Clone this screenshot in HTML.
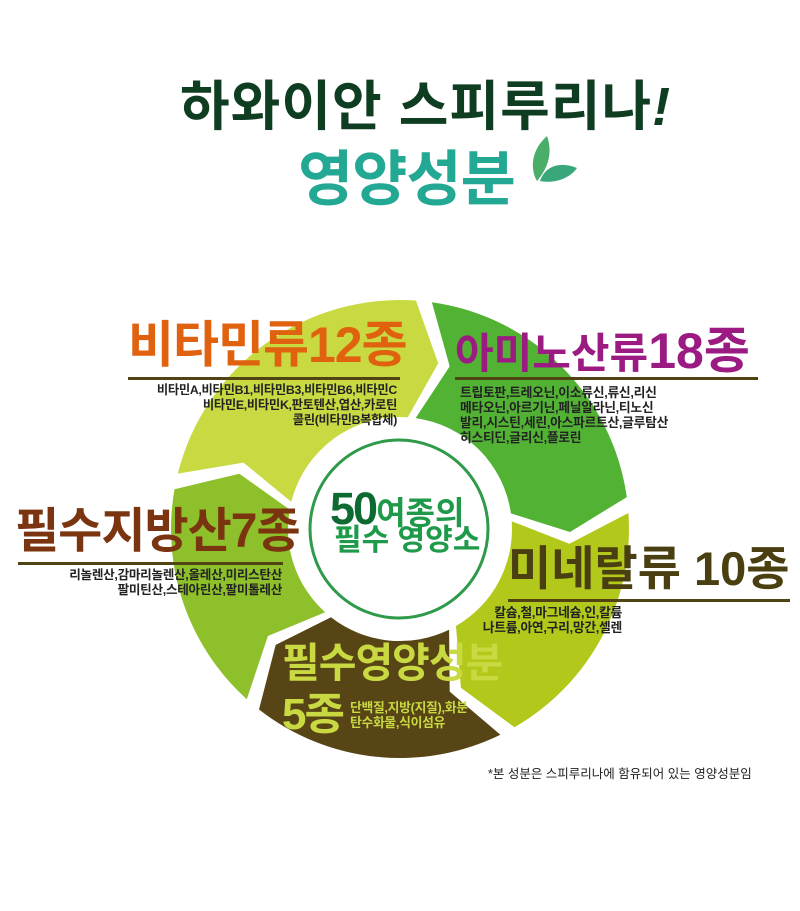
<!DOCTYPE html>
<html><head><meta charset="utf-8"><style>
body{margin:0;width:800px;height:911px;background:#fff;overflow:hidden;position:relative;font-family:"Liberation Sans","Noto Sans CJK KR",sans-serif;font-weight:bold}
.a{position:absolute;white-space:nowrap;line-height:1}
.bar{position:absolute;height:3px;background:#4f4412}
.d{position:absolute;font-size:12.3px;line-height:15px;color:#222;white-space:nowrap;letter-spacing:-0.3px}
</style></head><body>
<svg id="s" width="800" height="911" style="position:absolute;left:0;top:0">
<path d="M547 136 C528 153 532 173 537 181 C548 168 553 153 547 136Z" fill="#4aae6a"/>
<path d="M577 168 C560 161 545 166 540 181 C555 184 570 178 577 168Z" fill="#3aa77a"/>
<circle cx="399" cy="529" r="89" fill="#fff" stroke="#2e9a4a" stroke-width="3"/>
</svg>
<script>
(function(){var s=document.getElementById('s'),cx=400,cy=529,R=229,r=112,m=170,t=9;
function p(a,rr){a=a*Math.PI/180;return (cx+rr*Math.sin(a)).toFixed(1)+' '+(cy-rr*Math.cos(a)).toFixed(1);}
var seg=[[-76,4,'#c9d942'],[8,82,'#52b234'],[86,150,'#b2c81a'],[154,218,'#574515'],[222,280,'#8dc02a']];
var c=s.querySelector('circle');
seg.forEach(function(g){var a0=g[0],a1=g[1],d='M'+p(a0,R)+' A'+R+' '+R+' 0 0 1 '+p(a1,R)+' L'+p(a1+t,m)+' L'+p(a1,r)+' A'+r+' '+r+' 0 0 0 '+p(a0,r)+' L'+p(a0+t,m)+'Z';
var e=document.createElementNS('http://www.w3.org/2000/svg','path');e.setAttribute('d',d);e.setAttribute('fill',g[2]);e.setAttribute('stroke-linejoin','round');s.insertBefore(e,c);});})();
</script>
<div class="a" style="left:180px;top:80px;font-size:54px;color:#0f3d22;letter-spacing:1px">하와이안 스피루리나<i>!</i></div>
<div class="a" style="left:298px;top:150px;font-size:60px;color:#23a894;letter-spacing:-1px">영양성분</div>

<div class="a" style="left:128px;top:320px;font-size:50px;color:#e0620f;letter-spacing:-1px">비타민류12종</div>
<div class="bar" style="left:128px;top:377px;width:272px"></div>
<div class="d" style="right:403px;top:383px;text-align:right">비타민A,비타민B1,비타민B3,비타민B6,비타민C<br>비타민E,비타민K,판토텐산,엽산,카로틴<br>콜린(비타민B복합체)</div>

<div class="a" style="left:455px;top:326px;font-size:42px;color:#9b1b82;letter-spacing:0px">아미노산류<span style="font-size:50px">18종</span></div>
<div class="bar" style="left:455px;top:377px;width:303px"></div>
<div class="d" style="left:460px;top:385px;font-size:12.8px">트립토판,트레오닌,이소류신,류신,리신<br>메타오닌,아르기닌,페닐알라닌,티노신<br>발리,시스틴,세린,아스파르트산,글루탐산<br>히스티딘,글리신,플로린</div>

<div class="a" style="left:15px;top:508px;font-size:48px;color:#7a3510;letter-spacing:-1px">필수지방산7종</div>
<div class="bar" style="left:18px;top:562px;width:265px"></div>
<div class="d" style="right:518px;top:568px;text-align:right;font-size:12.6px">리놀렌산,감마리놀렌산,올레산,미리스탄산<br>팔미틴산,스테아린산,팔미톨레산</div>

<div class="a" style="left:508px;top:545px;font-size:47px;color:#4a3f10;letter-spacing:0px">미네랄류 10종</div>
<div class="bar" style="left:508px;top:599px;width:282px"></div>
<div class="d" style="right:178px;top:605px;text-align:right;font-size:12.8px">칼슘,철,마그네슘,인,칼륨<br>나트륨,아연,구리,망간,셀렌</div>

<div class="a" style="left:282px;top:643px;font-size:41px;color:#c9d942;letter-spacing:-1px">필수영양성분</div>
<div class="a" style="left:282px;top:693px;font-size:44px;color:#c9d942;letter-spacing:-2px">5종</div>
<div class="d" style="left:350px;top:700px;color:#c9d942;font-size:12.8px">단백질,지방(지질),화분<br>탄수화물,식이섬유</div>

<div class="a" style="left:330px;top:486px;font-size:45px;color:#0d6a30;letter-spacing:-2px">50<span style="font-size:32px;color:#1f9a4a;letter-spacing:0">여종의</span></div>
<div class="a" style="left:334px;top:526px;font-size:30px;color:#1f9a4a">필수 영양소</div>

<div class="a" style="left:488px;top:768px;font-size:12.5px;color:#222;font-weight:normal">*본 성분은 스피루리나에 함유되어 있는 영양성분임</div>
</body></html>
